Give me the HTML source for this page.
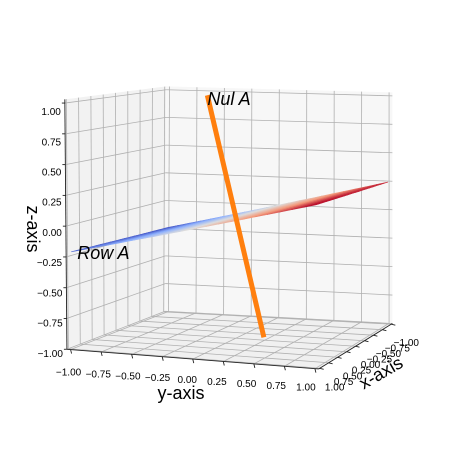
<!DOCTYPE html>
<html><head><meta charset="utf-8"><style>
html,body{margin:0;padding:0;background:#fff;}
svg{display:block;font-family:"Liberation Sans","DejaVu Sans",sans-serif;}
</style></head><body>
<svg id="chart" width="460" height="449" viewBox="0 0 460 449" xmlns="http://www.w3.org/2000/svg">
<g id="panes"></g>
<g id="grid"></g>
<g id="axes"></g>
<g id="surface"></g>
<g id="lines"></g>
<g id="labels"></g>
</svg>
<script>
const xTicks=[-1,-0.75,-0.5,-0.25,0,0.25,0.5,0.75,1];
const yTicks=[-1,-0.75,-0.5,-0.25,0,0.25,0.5,0.75,1];
const zTicks=[-1,-0.75,-0.5,-0.25,0,0.25,0.5,0.75,1];
const tickLabels=["−1.00","−0.75","−0.50","−0.25","0.00","0.25","0.50","0.75","1.00"];
const planeCoef=[0.015,0.2425,0.0175];
const surfX=[-1,-0.9,-0.8,-0.7,-0.6,-0.5,-0.4,-0.3,-0.2,-0.1,0,0.1,0.2,0.3,0.4,0.5,0.6,0.7,0.8,0.9,1];
const surfY=[-1,-0.9,-0.8,-0.7,-0.6,-0.5,-0.4,-0.3,-0.2,-0.1,0,0.1,0.2,0.3,0.4,0.5,0.6,0.7,0.8,0.9,1];
const nulStart=[-0.12,0.2,-1];
const nulEnd=[-0.9,-0.6,0.97];

const NS="http://www.w3.org/2000/svg";
const C={
 "1,-1,-1":[72,349],"-1,-1,-1":[167,312],"-1,1,-1":[388,324],"1,1,-1":[316,368],
 "1,-1,1":[70,103],"-1,-1,1":[168,90],"-1,1,1":[388,96],"1,1,1":[316,112]};
function P(x,y,z){
 const u=(x+1)/2,v=(y+1)/2,w=(z+1)/2;let sx=0,sy=0;
 for(const a of [-1,1])for(const b of [-1,1])for(const c of [-1,1]){
  const f=(a>0?u:1-u)*(b>0?v:1-v)*(c>0?w:1-w);const p=C[a+","+b+","+c];sx+=f*p[0];sy+=f*p[1];}
 return [sx,sy];}
function mk(tag,attrs,parent){const e=document.createElementNS(NS,tag);for(const k in attrs)e.setAttribute(k,attrs[k]);parent.appendChild(e);return e;}
function poly(pts){return pts.map(p=>p[0].toFixed(1)+","+p[1].toFixed(1)).join(" ");}
const E=1.03;
const panes=document.getElementById('panes');
let el=mk('polygon',{points:poly([P(E,-E,-1),P(-E,-E,-1),P(-E,-E,E),P(E,-E,E)]),fill:'#f2f2f2'},panes);


el=mk('polygon',{points:poly([P(-E,-E,-1),P(-E,E,-1),P(-E,E,E),P(-E,-E,E)]),fill:'#f7f7f7'},panes);


el=mk('polygon',{points:poly([P(E,-E,-1),P(-E,-E,-1),P(-E,E,-1),P(E,E,-1)]),fill:'#f0f0f0'},panes);


const grid=document.getElementById('grid');
function gl(a,b){const l=mk('line',{x1:a[0],y1:a[1],x2:b[0],y2:b[1],stroke:'#b0b0b0','stroke-width':0.8},grid);
 
 }
zTicks.forEach(z=>{gl(P(E,-E,z),P(-E,-E,z));gl(P(-E,-E,z),P(-E,E,z));});
xTicks.forEach(x=>{gl(P(x,-E,-1),P(x,-E,E));gl(P(x,-E,-1),P(x,E,-1));});
yTicks.forEach(y=>{gl(P(-E,y,-1),P(-E,y,E));gl(P(-E,y,-1),P(E,y,-1));});
const axes=document.getElementById('axes');
function al(a,b,name){const l=mk('line',{x1:a[0],y1:a[1],x2:b[0],y2:b[1],stroke:'#222','stroke-width':0.9},axes);
 
 }
al(P(E,-E,-1),P(E,-E,E),'z-axis-line');
al(P(E,-E,-1),P(E,E,-1),'y-axis-line');
al(P(E,E,-1),P(-E,E,-1),'x-axis-line');
const labels=document.getElementById('labels');
function tx(s,x,y,o,name){const t=mk('text',Object.assign({x:x,y:y},o),labels);t.textContent=s;
 
 return t;}
zTicks.forEach((z,i)=>{const p=P(E,-E,z);al([p[0]-3,p[1]],p,'z-tick');const w=(z+1)/2;
 tx(tickLabels[i],p[0]-4,p[1]+12-4.5*(1-w),{'font-size':10,'text-anchor':'end'},'z-tick-label');});
yTicks.forEach((y,i)=>{const p=P(E,y,-1);al(p,[p[0]+1,p[1]+4],'y-tick');const v=(y+1)/2;
 tx(tickLabels[i],p[0]-2-7*v,p[1]+26-4*v,{'font-size':10,'text-anchor':'middle'},'y-tick-label');});
xTicks.forEach((x,i)=>{const p=P(x,E,-1);al(p,[p[0]+4,p[1]+1],'x-tick');
 tx(tickLabels[i],p[0]+15,p[1]+22,{'font-size':10,'text-anchor':'middle'},'x-tick-label');});
const cm=[[59,76,192],[141,176,254],[221,221,221],[244,154,123],[180,4,38]];
function cw(t){t=Math.max(0,Math.min(1,t));const s=t*4,i=Math.min(3,Math.floor(s)),f=s-i;
 const a=cm[i],b=cm[i+1];return 'rgb('+a.map((c,k)=>Math.round(c+(b[k]-c)*f)).join(',')+')';}
const zf=(x,y)=>planeCoef[0]*x+planeCoef[1]*y+planeCoef[2];
const zmin=zf(-1,-1),zmax=zf(1,1);
const surf=document.getElementById('surface');const faces=[];
for(let i=0;i<surfX.length-1;i++)for(let j=0;j<surfY.length-1;j++){
 const x0=surfX[i],x1=surfX[i+1],y0=surfY[j],y1=surfY[j+1];
 const zc=zf((x0+x1)/2,(y0+y1)/2);
 faces.push({pts:[P(x0,y0,zf(x0,y0)),P(x1,y0,zf(x1,y0)),P(x1,y1,zf(x1,y1)),P(x0,y1,zf(x0,y1))],z:zc,d:(x0+x1)});}
faces.sort((a,b)=>a.d-b.d);
faces.forEach(f=>{const c=cw((f.z-zmin)/(zmax-zmin));
 const q=mk('polygon',{points:poly(f.pts),fill:c,stroke:c,'stroke-width':0.6},surf);
 
 });
const lines=document.getElementById('lines');
const a=P(...nulStart),b=P(...nulEnd);
el=mk('line',{x1:a[0],y1:a[1],x2:b[0],y2:b[1],stroke:'#ff7f0e','stroke-width':5},lines);


tx('Nul A',b[0],b[1]+10,{'font-size':18,'font-style':'italic'},'nul-a-label');
const r=P(1,-1,zf(1,-1));
tx('Row A',r[0]+6,r[1]+7,{'font-size':18,'font-style':'italic'},'row-a-label');
tx('y-axis',181,399,{'font-size':18,'text-anchor':'middle'},'y-axis-title');
tx('z-axis',0,0,{'font-size':18,'text-anchor':'middle',transform:'translate(27,229) rotate(90)'},'z-axis-title');
tx('x-axis',0,0,{'font-size':18,'text-anchor':'middle',transform:'translate(384,378) rotate(-30)'},'x-axis-title');
</script>
</body></html>
